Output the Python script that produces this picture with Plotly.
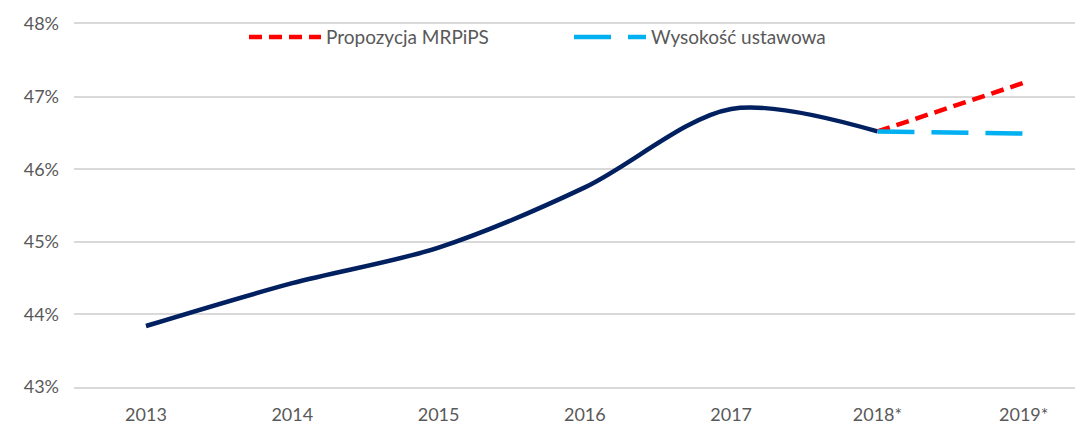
import plotly.graph_objects as go

years = ["2013", "2014", "2015", "2016", "2017", "2018*", "2019*"]
actual = [43.84, 44.43, 44.92, 45.75, 46.83, 46.52, None]
proposal = [None, None, None, None, None, 46.52, 47.19]
statutory = [None, None, None, None, None, 46.52, 46.49]

FONT = "Lato"
GRAY = "#595959"

fig = go.Figure()
fig.add_trace(go.Scatter(
    x=years, y=actual, mode="lines", showlegend=False,
    line=dict(color="#002060", width=4.5, shape="spline", smoothing=0.9),
    hoverinfo="skip"))
fig.add_trace(go.Scatter(
    x=years, y=proposal, mode="lines", name="Propozycja MRPiPS",
    line=dict(color="#FF0000", width=4.5, dash="13px,7px")))
fig.add_trace(go.Scatter(
    x=years, y=statutory, mode="lines", name="Wysokość ustawowa",
    line=dict(color="#00B0F0", width=4.5, dash="37px,17px")))

fig.update_layout(
    width=1075, height=418,
    margin=dict(l=66, r=0, t=16, b=39),
    paper_bgcolor="white", plot_bgcolor="white",
    font=dict(family=FONT, size=18, color=GRAY),
    legend=dict(orientation="h", x=0.1685, y=1.016, xanchor="left", yanchor="top",
                bgcolor="rgba(0,0,0,0)", font=dict(size=19, color=GRAY),
                entrywidth=238, entrywidthmode="pixels", itemwidth=72,
                tracegroupgap=0),
    xaxis=dict(type="category", range=[-0.492, 6.405], showgrid=False,
               showline=True, linecolor="#D9D9D9", linewidth=1.5, mirror=True,
               ticks="", tickfont=dict(size=18, color=GRAY),
               ticklabelstandoff=11),
    yaxis=dict(range=[43, 48], dtick=1, ticksuffix="%", showgrid=True,
               gridcolor="#D9D9D9", gridwidth=1.5, zeroline=False,
               showline=False, ticks="", tickfont=dict(size=18, color=GRAY),
               ticklabelstandoff=14),
)

fig.write_html("out.html")
